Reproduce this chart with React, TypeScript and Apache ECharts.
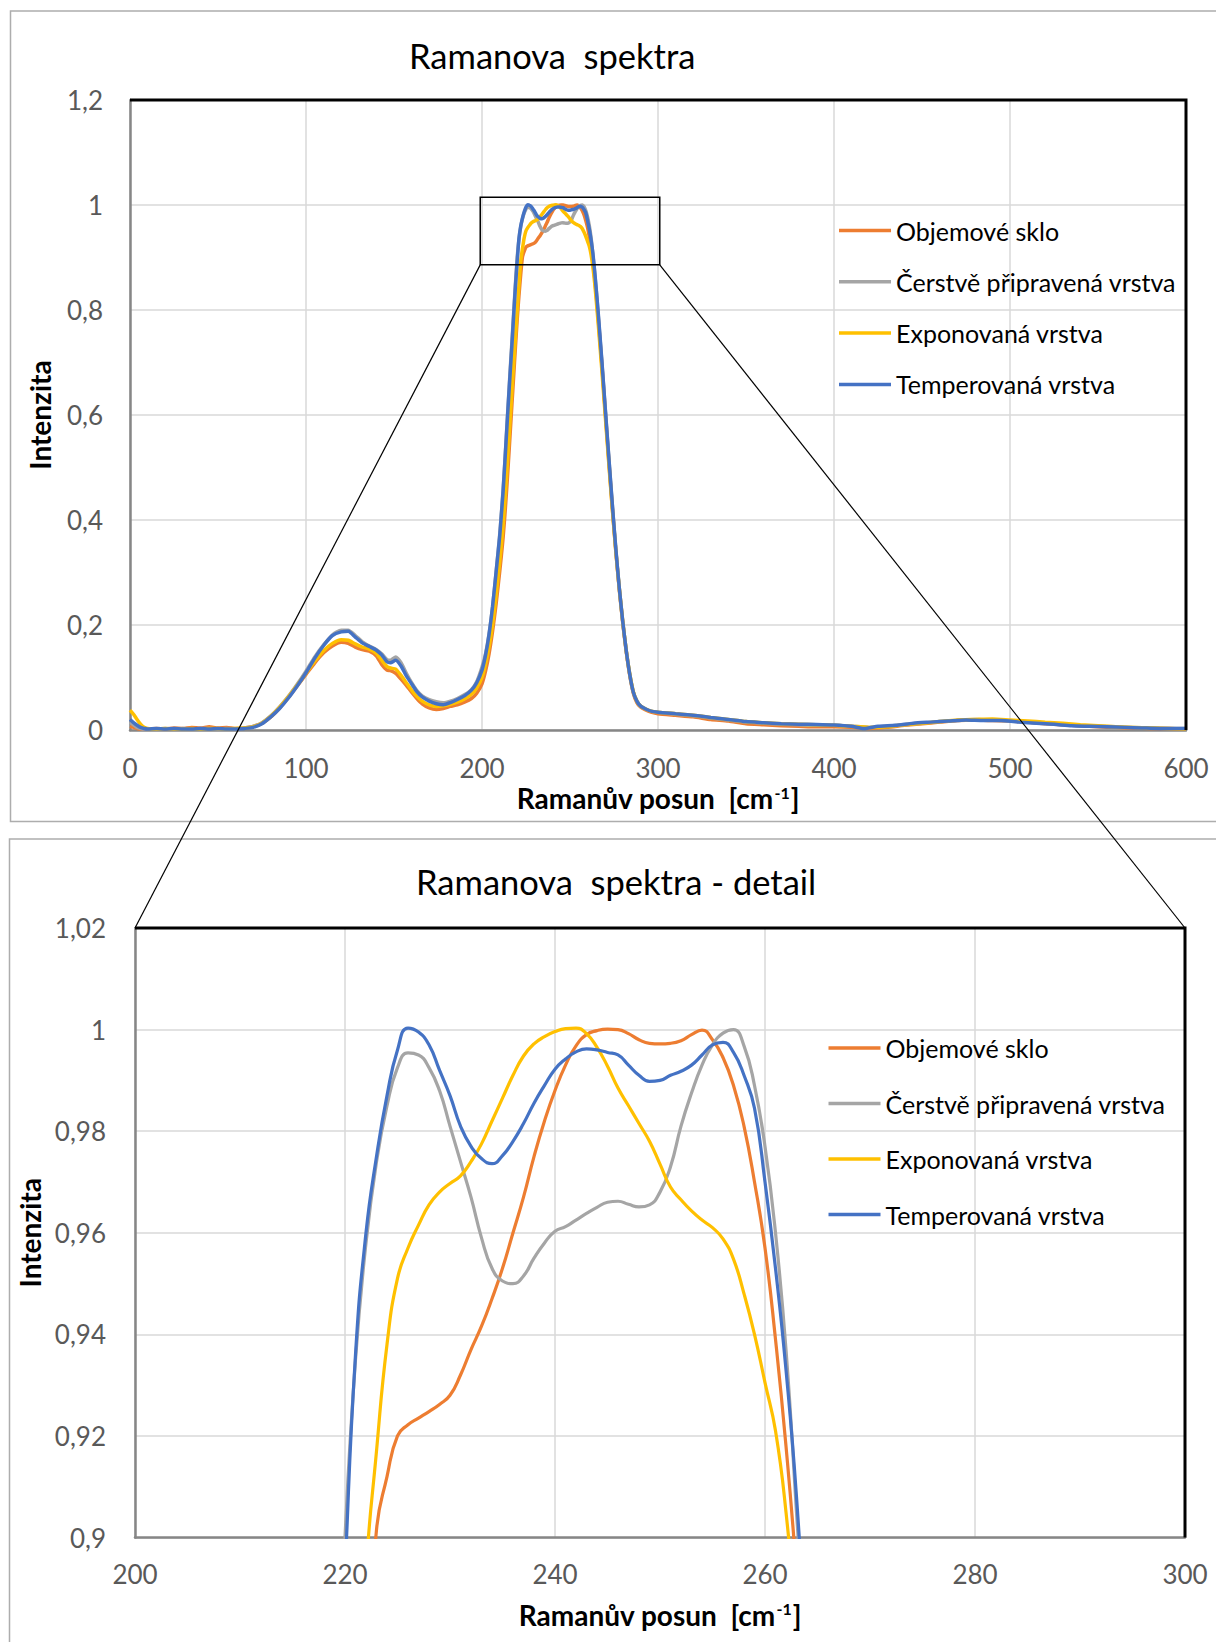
import React, { useEffect, useRef } from "react";
import * as echarts from "echarts";

const FONT = "Lato";

const SERIES_NAMES = [
  "Objemové sklo",
  "Čerstvě připravená vrstva",
  "Exponovaná vrstva",
  "Temperovaná vrstva",
];
const SERIES_COLORS = ["#ED7D31", "#A5A5A5", "#FFC000", "#4472C4"];

const MAIN_TITLE = "Ramanova  spektra";
const DETAIL_TITLE = "Ramanova  spektra - detail";
const X_NAME = "Ramanův posun  [cm";
const X_NAME_SUP = "-1";
const Y_NAME = "Intenzita";

// Main chart axis ranges
const MAIN_X = [0, 600, 100];
const MAIN_Y = [0, 1.2, 0.2];
// Detail chart axis ranges
const DETAIL_X = [200, 300, 20];
const DETAIL_Y = [0.9, 1.02, 0.02];
// Zoom box drawn on main chart (data coordinates)
const ZOOM_BOX_X = [199, 301];
const ZOOM_BOX_Y = [0.886, 1.015];

const OBJEMOVE: [number, number][] = [
  [0,0.007],[2,0.005],[4,0.003],[6,0.002],[8,0.002],[10,0.002],[15,0.003],[20,0.002],[25,0.004],[30,0.003],[35,0.005],[40,0.004],[45,0.006],[50,0.004],[55,0.005],[60,0.003],[65,0.004],[70,0.007],[75,0.013],[80,0.025],[85,0.042],[90,0.062],[95,0.084],[100,0.106],[105,0.128],[110,0.147],[115,0.16],[120,0.167],[124,0.165],[128,0.158],[132,0.153],[136,0.15],[140,0.141],[143,0.125],[146,0.114],[148,0.113],[151,0.108],[154,0.097],[157,0.085],[160,0.072],[163,0.06],[166,0.05],[170,0.042],[174,0.039],[178,0.041],[182,0.045],[186,0.048],[190,0.053],[194,0.06],[197,0.07],[200,0.088],[202,0.112],[204,0.145],[206,0.188],[208,0.24],[210,0.3],
  [211,0.332],[212,0.367],[213,0.41],[214,0.458],[215,0.51],[216,0.565],[217,0.62],[218,0.675],[219,0.73],[220,0.782],[221,0.828],[222,0.868],[223,0.9015],[224,0.912],[225,0.92],[226,0.9222],[227,0.9235],[228,0.9248],[229,0.9262],[230,0.928],[231,0.932],[232,0.937],[233,0.9416],[234,0.947],[235,0.953],[236,0.96],[237,0.967],[238,0.975],[239,0.982],[240,0.988],[241,0.993],[242,0.9968],[243,0.999],[244,0.9998],[245,1.0001],[246,1.0],[247,0.9992],[248,0.998],[249,0.9973],[250,0.9972],[251,0.9973],[252,0.9978],[253,0.999],[254,0.9999],[255,0.998],[256,0.9945],[257,0.989],[258,0.981],[259,0.97],[260,0.957],[261,0.939],[262,0.918],[263,0.893],[264,0.862],[265,0.825],[266,0.785],
  [268,0.7],[270,0.608],[272,0.515],[274,0.425],[276,0.342],[278,0.268],[280,0.203],[282,0.148],[284,0.103],[286,0.07],[288,0.052],[290,0.044],[293,0.038],[296,0.034],[300,0.031],[310,0.028],[320,0.025],[330,0.02],[340,0.017],[350,0.012],[360,0.01],[370,0.008],[380,0.007],[390,0.006],[400,0.006],[410,0.005],[420,0.003],[430,0.005],[440,0.009],[450,0.012],[460,0.015],[470,0.018],[480,0.019],[490,0.018],[500,0.017],[510,0.015],[520,0.012],[530,0.01],[540,0.008],[550,0.006],[560,0.005],[570,0.004],[580,0.003],[590,0.003],[600,0.002],
];

const CERSTVE: [number, number][] = [
  [0,0.015],[2,0.01],[4,0.005],[6,0.003],[8,0.002],[10,0.002],[15,0.002],[20,0.003],[25,0.002],[30,0.003],[35,0.002],[40,0.003],[45,0.003],[50,0.002],[55,0.003],[60,0.002],[65,0.004],[70,0.007],[75,0.014],[80,0.027],[85,0.044],[90,0.064],[95,0.087],[100,0.112],[105,0.139],[110,0.162],[115,0.181],[120,0.19],[124,0.19],[128,0.18],[132,0.168],[136,0.16],[140,0.153],[143,0.145],[146,0.134],[148,0.133],[151,0.139],[154,0.128],[157,0.108],[160,0.09],[163,0.075],[166,0.065],[170,0.058],[174,0.054],[178,0.052],[182,0.055],[186,0.06],[190,0.067],[194,0.077],[197,0.092],[200,0.12],[202,0.145],[204,0.183],[206,0.235],[208,0.3],[210,0.37],
  [211,0.412],[212,0.458],[213,0.512],[214,0.57],[215,0.628],[216,0.685],[217,0.74],[218,0.795],[219,0.85],[220,0.9],[221,0.935],[222,0.958],[223,0.974],[224,0.985],[225,0.9925],[226,0.9954],[227,0.995],[228,0.9925],[229,0.988],[230,0.981],[231,0.974],[232,0.967],[233,0.959],[234,0.953],[235,0.9505],[236,0.95],[237,0.9515],[238,0.955],[239,0.958],[240,0.9603],[241,0.9612],[242,0.9625],[243,0.9638],[244,0.965],[245,0.966],[246,0.9662],[247,0.9656],[248,0.9651],[249,0.9655],[250,0.968],[251,0.973],[252,0.981],[253,0.9875],[254,0.993],[255,0.997],[256,0.9993],[257,1.0],[258,0.9968],[259,0.989],[260,0.977],[261,0.96],[262,0.937],[263,0.905],[264,0.872],[265,0.834],[266,0.792],
  [268,0.705],[270,0.612],[272,0.52],[274,0.43],[276,0.345],[278,0.27],[280,0.205],[282,0.15],[284,0.105],[286,0.072],[288,0.055],[290,0.046],[293,0.04],[296,0.036],[300,0.034],[310,0.03],[320,0.027],[330,0.023],[340,0.019],[350,0.015],[360,0.013],[370,0.011],[380,0.01],[390,0.009],[400,0.009],[410,0.007],[420,0.005],[430,0.007],[440,0.01],[450,0.013],[460,0.016],[470,0.018],[480,0.02],[490,0.019],[500,0.017],[510,0.015],[520,0.013],[530,0.01],[540,0.008],[550,0.007],[560,0.006],[570,0.005],[580,0.004],[590,0.003],[600,0.003],
];

const EXPONOVANA: [number, number][] = [
  [0,0.038],[2,0.03],[4,0.02],[6,0.011],[8,0.005],[10,0.003],[15,0.002],[20,0.003],[25,0.002],[30,0.002],[35,0.003],[40,0.002],[45,0.003],[50,0.003],[55,0.002],[60,0.003],[65,0.004],[70,0.006],[75,0.013],[80,0.026],[85,0.043],[90,0.063],[95,0.085],[100,0.108],[105,0.131],[110,0.151],[115,0.165],[120,0.172],[124,0.171],[128,0.164],[132,0.158],[136,0.154],[140,0.146],[143,0.133],[146,0.121],[148,0.118],[151,0.116],[154,0.104],[157,0.09],[160,0.076],[163,0.064],[166,0.055],[170,0.048],[174,0.045],[178,0.046],[182,0.049],[186,0.053],[190,0.059],[194,0.068],[197,0.08],[200,0.1],[202,0.125],[204,0.158],[206,0.2],[208,0.255],[210,0.318],
  [211,0.352],[212,0.39],[213,0.435],[214,0.485],[215,0.538],[216,0.592],[217,0.646],[218,0.698],[219,0.748],[220,0.798],[221,0.847],[222,0.893],[223,0.917],[224,0.938],[225,0.951],[226,0.957],[227,0.9615],[228,0.9655],[229,0.968],[230,0.9697],[231,0.9712],[232,0.974],[233,0.9775],[234,0.982],[235,0.9865],[236,0.991],[237,0.9948],[238,0.9972],[239,0.9986],[240,0.9996],[241,1.0002],[242,1.0003],[243,0.9992],[244,0.9965],[245,0.9928],[246,0.9885],[247,0.985],[248,0.9815],[249,0.978],[250,0.9735],[251,0.969],[252,0.9665],[253,0.9643],[254,0.9625],[255,0.961],[256,0.9588],[257,0.9548],[258,0.948],[259,0.94],[260,0.9305],[261,0.921],[262,0.905],[263,0.882],[264,0.852],[265,0.815],[266,0.775],
  [268,0.69],[270,0.6],[272,0.51],[274,0.423],[276,0.342],[278,0.27],[280,0.206],[282,0.15],[284,0.106],[286,0.073],[288,0.055],[290,0.046],[293,0.04],[296,0.036],[300,0.034],[310,0.031],[320,0.028],[330,0.024],[340,0.02],[350,0.016],[360,0.014],[370,0.012],[380,0.011],[390,0.01],[400,0.009],[410,0.007],[420,0.005],[430,0.006],[440,0.01],[450,0.013],[460,0.016],[470,0.019],[480,0.02],[490,0.021],[500,0.019],[510,0.017],[520,0.015],[530,0.013],[540,0.01],[550,0.008],[560,0.006],[570,0.005],[580,0.004],[590,0.003],[600,0.002],
];

const TEMPEROVANA: [number, number][] = [
  [0,0.02],[2,0.014],[4,0.009],[6,0.005],[8,0.003],[10,0.002],[15,0.003],[20,0.002],[25,0.003],[30,0.002],[35,0.002],[40,0.003],[45,0.002],[50,0.003],[55,0.002],[60,0.002],[65,0.003],[70,0.005],[75,0.012],[80,0.025],[85,0.041],[90,0.061],[95,0.084],[100,0.109],[105,0.137],[110,0.161],[115,0.18],[120,0.187],[124,0.188],[128,0.177],[132,0.166],[136,0.159],[140,0.152],[143,0.143],[146,0.13],[148,0.128],[151,0.133],[154,0.122],[157,0.103],[160,0.088],[163,0.073],[166,0.063],[170,0.055],[174,0.05],[178,0.048],[182,0.052],[186,0.058],[190,0.065],[194,0.076],[197,0.09],[200,0.114],[202,0.142],[204,0.182],[206,0.235],[208,0.3],[210,0.367],
  [211,0.41],[212,0.455],[213,0.51],[214,0.568],[215,0.625],[216,0.68],[217,0.733],[218,0.79],[219,0.845],[220,0.893],[221,0.936],[222,0.96],[223,0.975],[224,0.987],[225,0.996],[226,1.0003],[227,0.9995],[228,0.997],[229,0.992],[230,0.987],[231,0.981],[232,0.977],[233,0.9746],[234,0.9736],[235,0.9752],[236,0.978],[237,0.9815],[238,0.9855],[239,0.989],[240,0.9922],[241,0.9942],[242,0.9956],[243,0.9962],[244,0.996],[245,0.9955],[246,0.995],[247,0.993],[248,0.991],[249,0.9898],[250,0.99],[251,0.991],[252,0.9918],[253,0.993],[254,0.995],[255,0.997],[256,0.9975],[257,0.9955],[258,0.991],[259,0.9845],[260,0.97],[261,0.953],[262,0.933],[263,0.908],[264,0.874],[265,0.836],[266,0.796],
  [268,0.708],[270,0.614],[272,0.522],[274,0.432],[276,0.347],[278,0.271],[280,0.206],[282,0.15],[284,0.105],[286,0.072],[288,0.055],[290,0.046],[293,0.04],[296,0.036],[300,0.034],[310,0.031],[320,0.028],[330,0.024],[340,0.02],[350,0.016],[360,0.014],[370,0.012],[380,0.011],[390,0.0105],[400,0.0095],[410,0.007],[417,0.003],[425,0.007],[435,0.009],[445,0.013],[455,0.015],[465,0.017],[475,0.019],[485,0.018],[495,0.018],[505,0.015],[515,0.013],[525,0.011],[535,0.008],[545,0.007],[555,0.006],[565,0.005],[575,0.004],[585,0.003],[600,0.003],
];

const SERIES_DATA = [OBJEMOVE, CERSTVE, EXPONOVANA, TEMPEROVANA];

const fmt = (v: number) => String(Math.round(v * 100) / 100).replace(".", ",");

function axisPair(gridIndex: number, xr: number[], yr: number[], labelMarginX: number, labelMarginY: number, nameGapX: number, nameGapY: number) {
  const label = { color: "#595959", fontSize: 26, fontFamily: FONT };
  const splitLine = { show: true, lineStyle: { color: "#D9D9D9", width: 1.5 } };
  const axisLine = { show: true, onZero: false, lineStyle: { color: "#868686", width: 2.5 } };
  const x = {
    type: "value", gridIndex, min: xr[0], max: xr[1], interval: xr[2],
    axisLine, axisTick: { show: false }, splitLine,
    axisLabel: { ...label, margin: labelMarginX, formatter: (v: number) => fmt(v) },
    name: `{a|${X_NAME}}{s|${X_NAME_SUP}}{a|]}`,
    nameLocation: "middle", nameGap: nameGapX,
    nameTextStyle: {
      fontSize: 28, fontWeight: "bold", color: "#000", fontFamily: FONT,
      rich: {
        a: { fontSize: 28, fontWeight: "bold", color: "#000", fontFamily: FONT },
        s: { fontSize: 16, fontWeight: "bold", color: "#000", fontFamily: FONT, verticalAlign: "top", padding: [0, 1, 0, 1] },
      },
    },
  };
  const y = {
    type: "value", gridIndex, min: yr[0], max: yr[1], interval: yr[2],
    axisLine, axisTick: { show: false }, splitLine,
    axisLabel: { ...label, margin: labelMarginY, formatter: (v: number) => fmt(v) },
    name: Y_NAME, nameLocation: "middle", nameRotate: 90, nameGap: nameGapY,
    nameTextStyle: { fontSize: 28, fontWeight: "bold", color: "#000", fontFamily: FONT },
  };
  return { x, y };
}

export default function App() {
  const ref = useRef<HTMLDivElement>(null);
  useEffect(() => {
    document.body.style.margin = "0";
    if (!ref.current) return;
    const chart = echarts.init(ref.current, undefined, { renderer: "svg" });
    const main = axisPair(0, MAIN_X, MAIN_Y, 25, 27, 54, 76);
    const detail = axisPair(1, DETAIL_X, DETAIL_Y, 23, 29, 63, 90);

    const series: any[] = [];
    SERIES_DATA.forEach((d, i) => {
      series.push({
        type: "line", name: SERIES_NAMES[i], xAxisIndex: 0, yAxisIndex: 0, data: d,
        symbol: "none", showSymbol: false, smooth: 0.2, clip: true,
        color: SERIES_COLORS[i],
        lineStyle: { color: SERIES_COLORS[i], width: 3.5 },
        itemStyle: { color: SERIES_COLORS[i] },
      });
    });
    SERIES_DATA.forEach((d, i) => {
      series.push({
        type: "line", name: SERIES_NAMES[i], xAxisIndex: 1, yAxisIndex: 1, data: d,
        symbol: "none", showSymbol: false, smooth: 0.5, clip: true,
        color: SERIES_COLORS[i],
        lineStyle: { color: SERIES_COLORS[i], width: 3.2 },
        itemStyle: { color: SERIES_COLORS[i] },
      });
    });

    const legendBase = {
      data: SERIES_NAMES, orient: "vertical", icon: "rect", itemWidth: 52, itemHeight: 3.5,
      padding: 0, selectedMode: false,
      textStyle: { fontSize: 25, lineHeight: 25, color: "#000", fontFamily: FONT },
    };

    chart.setOption({
      animation: false,
      backgroundColor: "#fff",
      grid: [
        { left: 130, top: 100, width: 1056, height: 630, show: false },
        { left: 135, top: 928, width: 1050, height: 609.5, show: false },
      ],
      xAxis: [main.x, detail.x],
      yAxis: [main.y, detail.y],
      legend: [
        { ...legendBase, left: 839, top: 218, itemGap: 26.3 },
        { ...legendBase, left: 828.5, top: 1035.5, itemGap: 30.5 },
      ],
      series,
    });

    const p = (idx: number, v: number[]) => chart.convertToPixel({ xAxisIndex: idx, yAxisIndex: idx }, v) as number[];
    const bl = p(0, [ZOOM_BOX_X[0], ZOOM_BOX_Y[0]]);
    const tr = p(0, [ZOOM_BOX_X[1], ZOOM_BOX_Y[1]]);
    const dl = p(1, [DETAIL_X[0], DETAIL_Y[1]]);
    const dr = p(1, [DETAIL_X[1], DETAIL_Y[1]]);
    // plot-area top/right borders
    const mTL = p(0, [MAIN_X[0], MAIN_Y[1]]);
    const mTR = p(0, [MAIN_X[1], MAIN_Y[1]]);
    const mBR = p(0, [MAIN_X[1], MAIN_Y[0]]);
    const dTL = p(1, [DETAIL_X[0], DETAIL_Y[1]]);
    const dTR = p(1, [DETAIL_X[1], DETAIL_Y[1]]);
    const dBR = p(1, [DETAIL_X[1], DETAIL_Y[0]]);

    chart.setOption({
      graphic: [
        { type: "rect", silent: true, z: 0, shape: { x: 10.5, y: 11, width: 1240, height: 810.5 }, style: { fill: "none", stroke: "#ADADAD", lineWidth: 1.5 } },
        { type: "rect", silent: true, z: 0, shape: { x: 9.5, y: 839, width: 1240, height: 900 }, style: { fill: "none", stroke: "#ADADAD", lineWidth: 1.5 } },
        { type: "polyline", silent: true, z: 50, shape: { points: [mTL, mTR, mBR] }, style: { fill: "none", stroke: "#000", lineWidth: 3 } },
        { type: "polyline", silent: true, z: 50, shape: { points: [dTL, dTR, dBR] }, style: { fill: "none", stroke: "#000", lineWidth: 3 } },
        { type: "text", silent: true, z: 10, x: 409, y: 55.5, style: { text: MAIN_TITLE, fontSize: 34.5, fontFamily: FONT, fill: "#000", align: "left", verticalAlign: "middle" } },
        { type: "text", silent: true, z: 10, x: 416, y: 881, style: { text: DETAIL_TITLE, fontSize: 34.5, fontFamily: FONT, fill: "#000", align: "left", verticalAlign: "middle" } },
        { type: "rect", silent: true, z: 100, shape: { x: bl[0], y: tr[1], width: tr[0] - bl[0], height: bl[1] - tr[1] }, style: { fill: "none", stroke: "#000", lineWidth: 1.5 } },
        { type: "line", silent: true, z: 100, shape: { x1: bl[0], y1: bl[1], x2: dl[0], y2: dl[1] }, style: { stroke: "#000", lineWidth: 1.2 } },
        { type: "line", silent: true, z: 100, shape: { x1: tr[0], y1: bl[1], x2: dr[0], y2: dr[1] }, style: { stroke: "#000", lineWidth: 1.2 } },
      ],
    });

    return () => chart.dispose();
  }, []);
  return <div ref={ref} style={{ width: 1216, height: 1642 }} />;
}
